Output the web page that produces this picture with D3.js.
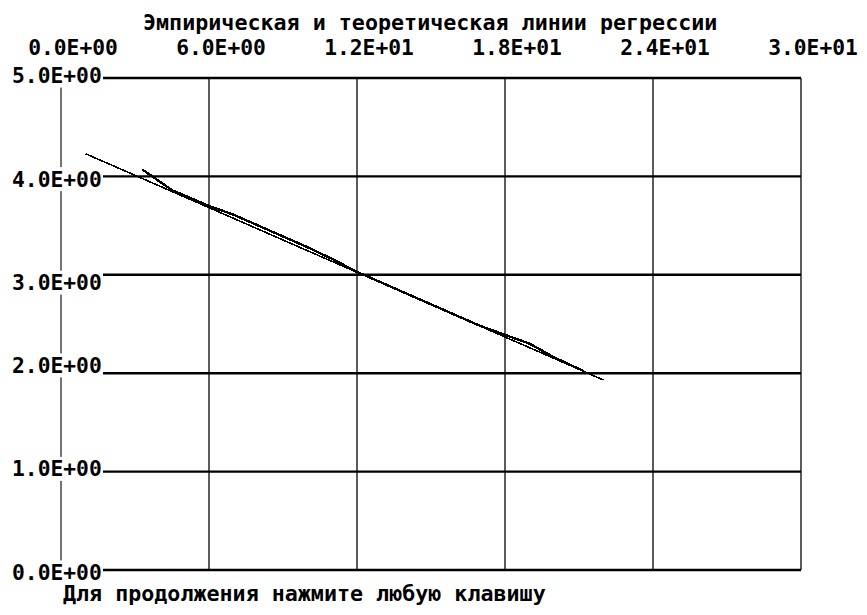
<!DOCTYPE html>
<html>
<head>
<meta charset="utf-8">
<script src="https://cdn.jsdelivr.net/npm/d3@7"></script>
<style>
    body { margin: 0; background: #fff; }
    text { font-family: "DejaVu Sans Mono", "Liberation Mono", monospace; font-weight: bold; fill: #000; }
</style>
</head>
<body>
<div id="chart"></div>
<script>
    var titleText = "Эмпирическая и теоретическая линии регрессии";
    var footerText = "Для продолжения нажмите любую клавишу";

    var xTicks = [0, 6, 12, 18, 24, 30];
    var xTickLabels = ["0.0E+00", "6.0E+00", "1.2E+01", "1.8E+01", "2.4E+01", "3.0E+01"];
    var yTicks = [0, 1, 2, 3, 4, 5];
    var yTickLabels = ["0.0E+00", "1.0E+00", "2.0E+00", "3.0E+00", "4.0E+00", "5.0E+00"];

    var empX = [3.3, 4.5, 6, 7, 8, 9, 10, 11, 12, 13, 14, 15, 16, 17, 18, 19, 20, 21.2];
    var empY = [4.07, 3.86, 3.70, 3.61, 3.50, 3.39, 3.28, 3.16, 3.03, 2.92, 2.81, 2.70, 2.59, 2.48, 2.39, 2.30, 2.16, 2.02];
    // theoretical line: straight, two end points
    var theoX = [1.0, 22.0];
    var theoY = [4.23, 1.93];

    var svgWidth = 867;
    var svgHeight = 615;
    var charW = 13.1;   // width of one character cell
    var rowH = 20.7;    // height of one text row
    var capH = 16.5;

    var x = d3.scaleLinear().domain([0, 30]).range([61, 801]);
    var y = d3.scaleLinear().domain([0, 5]).range([570, 78]);

    var svg = d3.select("#chart").append("svg")
        .attr("width", svgWidth)
        .attr("height", svgHeight);

    var line = d3.line()
        .x(function(d){ return x(d.x); })
        .y(function(d){ return y(d.y); })
        .curve(d3.curveLinear);

    // left axis line (labels are drawn over it later)
    svg.append("line")
        .attr("x1", x(0)).attr("x2", x(0))
        .attr("y1", y(5)).attr("y2", y(0))
        .attr("stroke", "#444")
        .attr("stroke-width", 1.5);

    // vertical grid + right border
    svg.selectAll("line.vgrid")
        .data(xTicks.slice(1))
        .enter().append("line")
            .attr("class", "vgrid")
            .attr("x1", function(d){ return x(d); })
            .attr("x2", function(d){ return x(d); })
            .attr("y1", y(5)).attr("y2", y(0))
            .attr("stroke", "#333")
            .attr("stroke-width", 1.6);

    // horizontal grid
    svg.selectAll("line.hgrid")
        .data(yTicks)
        .enter().append("line")
            .attr("class", "hgrid")
            .attr("x1", x(0)).attr("x2", x(30))
            .attr("y1", function(d){ return y(d); })
            .attr("y2", function(d){ return y(d); })
            .attr("stroke", "#000")
            .attr("stroke-width", 2.4);

    var empData = empX.map(function(v, i){ return {x: v, y: empY[i]}; });
    var theoData = theoX.map(function(v, i){ return {x: v, y: theoY[i]}; });

    svg.append("path")
        .attr("fill", "none")
        .attr("stroke", "#000")
        .attr("stroke-width", 1.6)
        .attr("shape-rendering", "crispEdges")
        .attr("d", line(theoData));

    svg.append("path")
        .attr("fill", "none")
        .attr("stroke", "#000")
        .attr("stroke-width", 2.4)
        .attr("shape-rendering", "crispEdges")
        .attr("d", line(empData));

    function addText(str, xs, baseline) {
        return svg.append("text")
            .attr("x", xs)
            .attr("y", baseline)
            .attr("font-size", "22px")
            .attr("textLength", str.length * charW - 2)
            .attr("lengthAdjust", "spacingAndGlyphs")
            .text(str);
    }

    // y labels sit on the text grid of the old screen, so snap them to a row
    yTicks.forEach(function(v, i){
        var row = Math.floor((y(v) - 1) / rowH);
        var capTop = row * rowH + 4.5;
        svg.append("rect")
            .attr("x", 12)
            .attr("y", capTop - 3)
            .attr("width", 91)
            .attr("height", 24)
            .attr("fill", "#fff");
        addText(yTickLabels[i], 12, capTop + capH);
    });

    xTicks.forEach(function(v, i){
        addText(xTickLabels[i], x(v) + 13 - 3.5 * charW, 38 + capH);
    });

    addText(titleText, 143, 13 + capH);
    addText(footerText, 63, 584 + capH);
</script>
</body>
</html>
